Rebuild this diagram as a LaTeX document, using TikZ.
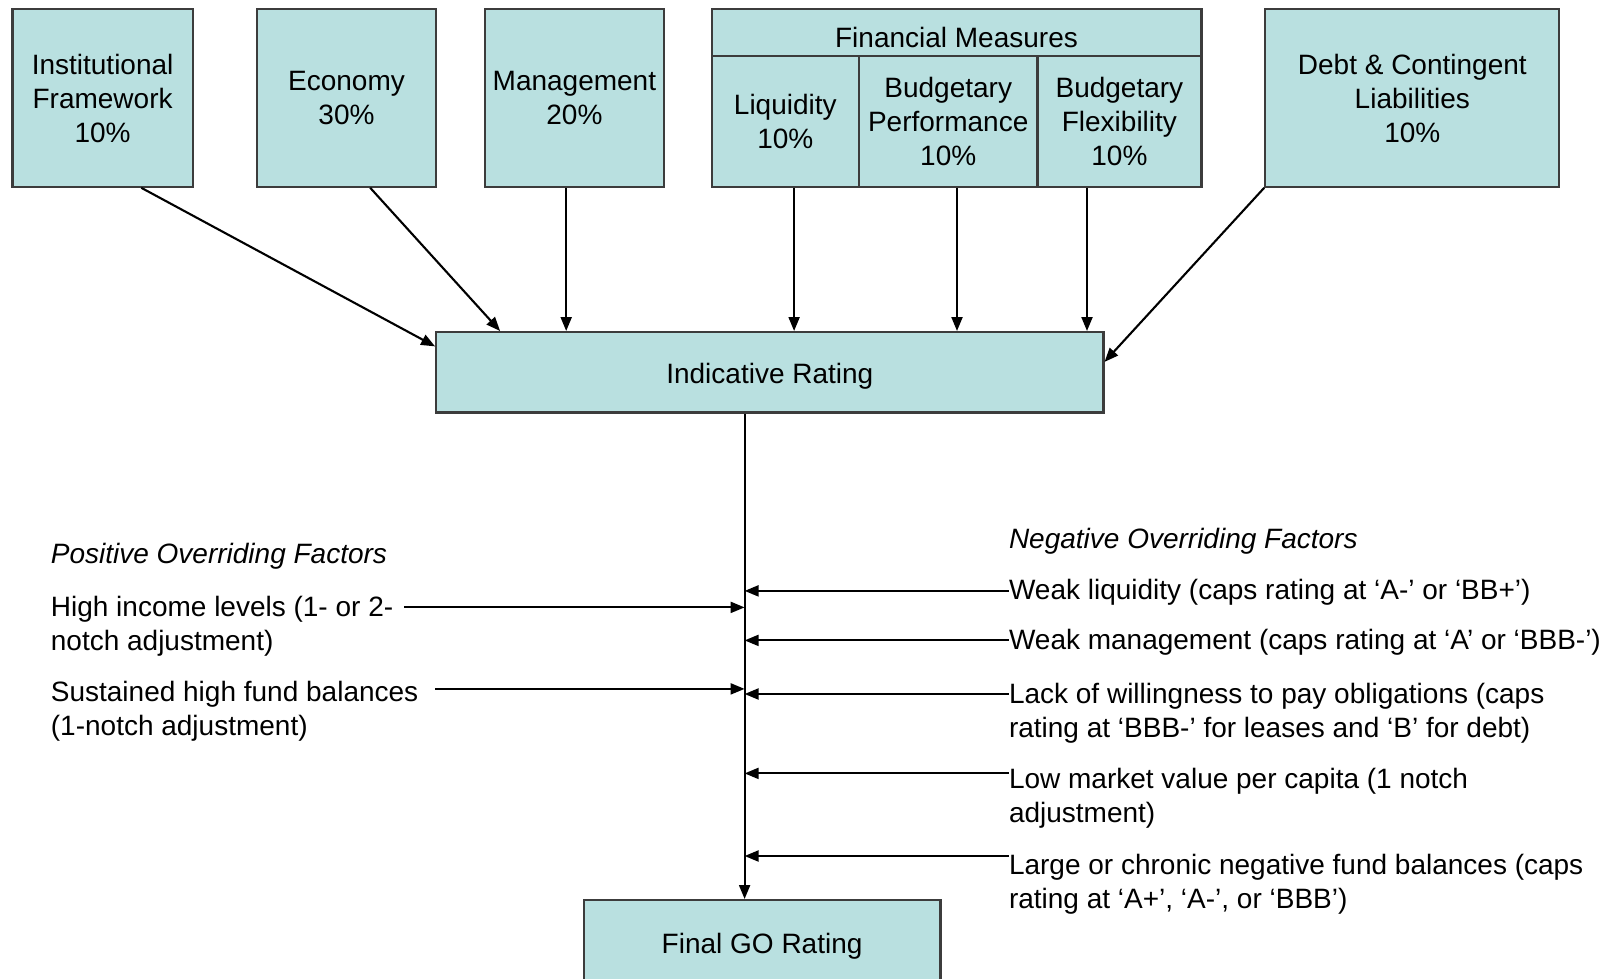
\documentclass[tikz,border=0pt]{standalone}
\usepackage{fontspec}
\setmainfont{Liberation Sans}
\usetikzlibrary{arrows.meta,calc}
\definecolor{boxfill}{RGB}{185,224,224}
\definecolor{boxline}{RGB}{60,60,60}
\begin{document}
\begin{tikzpicture}[x=0.5pt,y=-0.5pt,
  box/.style={draw=boxline, line width=1.1pt, fill=boxfill, align=center, inner sep=0pt, font=\fontsize{14}{17}\selectfont},
  onebox/.style={box, text height=13.5pt, text depth=2pt},
  arr/.style={-{Triangle[length=7pt,width=5.5pt]}, line width=1.05pt},
  txt/.style={anchor=west, align=left, inner sep=0pt, font=\fontsize{14}{17}\selectfont}]
\useasboundingbox (0,0) rectangle (1617,979);
\clip (0,0) rectangle (1617,979);
% top boxes
\node[box, minimum width=90.2pt, minimum height=88.7pt] (inst) at (102.6,98) {Institutional\\Framework\\10\%};
\node[box, minimum width=89.7pt, minimum height=88.7pt] (econ) at (346.5,98) {Economy\\30\%};
\node[box, minimum width=89.7pt, minimum height=88.7pt] (mgmt) at (574.4,98) {Management\\20\%};
\node[box, text height=15pt, text depth=0pt, minimum width=244.9pt, minimum height=23.2pt] (fin) at (956.5,32.5) {Financial Measures};
\node[box, minimum width=73.7pt, minimum height=65.5pt] (liq) at (785.3,121.2) {Liquidity\\10\%};
\node[box, minimum width=89.2pt, minimum height=65.5pt] (bp) at (948.2,121.2) {Budgetary\\Performance\\10\%};
\node[box, minimum width=82pt, minimum height=65.5pt] (bf) at (1119.4,121.2) {Budgetary\\Flexibility\\10\%};
\node[box, minimum width=147pt, minimum height=88.7pt] (debt) at (1412.3,98) {Debt \& Contingent\\Liabilities\\10\%};
% middle / bottom boxes
\node[onebox, minimum width=333.6pt, minimum height=40.2pt] (ind) at (769.8,372.3) {Indicative Rating};
\node[onebox, minimum width=178.4pt, minimum height=41.9pt] (final) at (762.1,942) {Final GO Rating};
% arrows into indicative rating
\draw[arr] ([xshift=19.35pt]inst.south) -- ([yshift=-7.7pt]ind.north west);
\draw[arr] ([xshift=11.85pt]econ.south) -- ([xshift=32.5pt]ind.north west);
\draw[arr] ([xshift=-4.1pt]mgmt.south) -- ([xshift=-4.1pt]mgmt.south |- ind.north);
\draw[arr] ([xshift=4.4pt]liq.south) -- ([xshift=4.4pt]liq.south |- ind.north);
\draw[arr] ([xshift=4.4pt]bp.south) -- ([xshift=4.4pt]bp.south |- ind.north);
\draw[arr] ([xshift=-16.2pt]bf.south) -- ([xshift=-16.2pt]bf.south |- ind.north);
\draw[arr] (debt.south west) -- ([yshift=-15.45pt]ind.north east);
% spine
\coordinate (sp) at (744.6,0);
\draw[arr] (ind.south -| sp) -- (final.north -| sp);
% positive factors
\node[txt, font=\fontsize{14}{17}\selectfont\itshape] (poshead) at (50.5,556) {Positive Overriding Factors};
\node[txt] (hi) at (50.5,626.5) {High income levels (1- or 2-\\notch adjustment)};
\coordinate (hiS) at (404.3,607.4);
\draw[arr] (hiS) -- (hiS -| sp);
\node[txt] (sus) at (50.5,711.5) {Sustained high fund balances\\(1-notch adjustment)};
\coordinate (susS) at (435.2,688.9);
\draw[arr] (susS) -- (susS -| sp);
% negative factors
\node[txt, font=\fontsize{14}{17}\selectfont\itshape] (neghead) at (1008.6,541.5) {Negative Overriding Factors};
\node[txt] (wl) at (1008.6,592.5) {Weak liquidity (caps rating at ‘A-’ or ‘BB+’)};
\coordinate (wlS) at (1008.6,590.9);
\draw[arr] (wlS) -- (wlS -| sp);
\node[txt] (wm) at (1008.6,642) {Weak management (caps rating at ‘A’ or ‘BBB-’)};
\coordinate (wmS) at (1008.6,640.4);
\draw[arr] (wmS) -- (wmS -| sp);
\node[txt] (lack) at (1008.6,713) {Lack of willingness to pay obligations (caps\\rating at ‘BBB-’ for leases and ‘B’ for debt)};
\coordinate (lackS) at (1008.6,694);
\draw[arr] (lackS) -- (lackS -| sp);
\node[txt] (low) at (1008.6,798.5) {Low market value per capita (1 notch\\adjustment)};
\coordinate (lowS) at (1008.6,773.4);
\draw[arr] (lowS) -- (lowS -| sp);
\node[txt] (large) at (1008.6,884.2) {Large or chronic negative fund balances (caps\\rating at ‘A+’, ‘A-’, or ‘BBB’)};
\coordinate (largeS) at (1008.6,856);
\draw[arr] (largeS) -- (largeS -| sp);
\end{tikzpicture}
\end{document}
